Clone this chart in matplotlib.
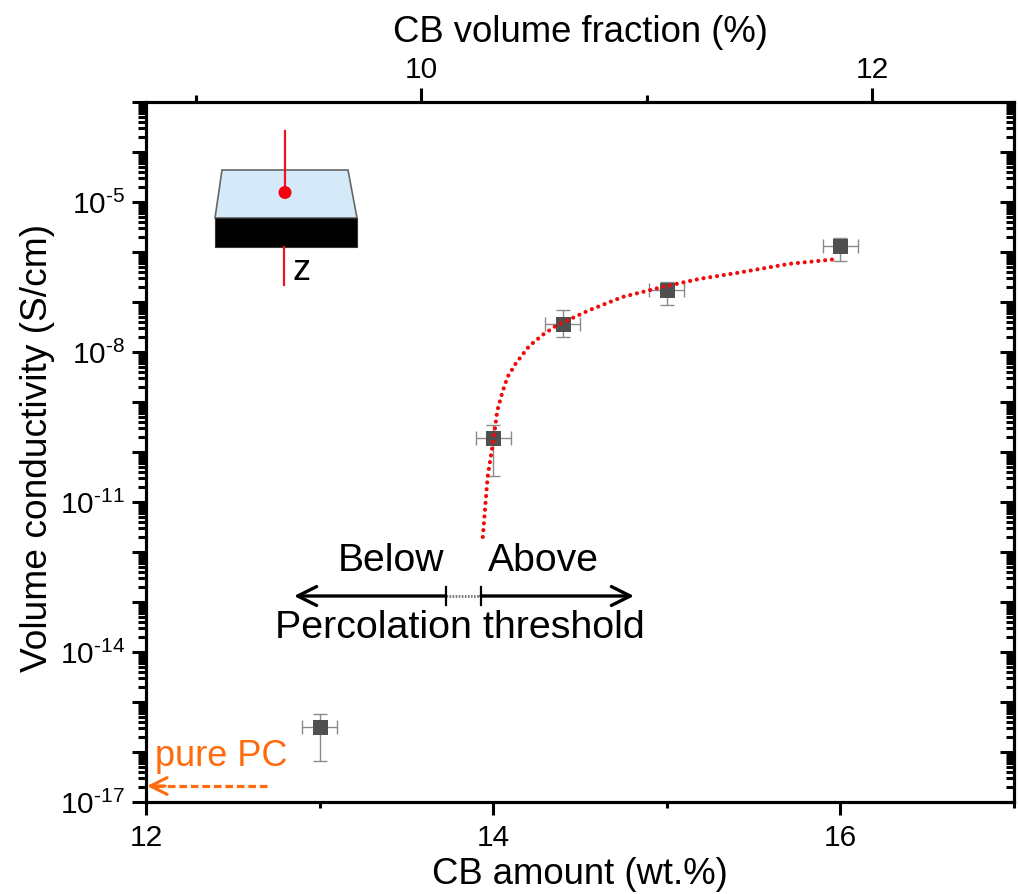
import matplotlib
matplotlib.use('Agg')
import matplotlib.pyplot as plt
import numpy as np
from matplotlib.patches import Polygon, Rectangle, Circle, FancyArrowPatch
from matplotlib.lines import Line2D
from matplotlib.ticker import FixedLocator, NullFormatter
from matplotlib.transforms import Affine2D

plt.rcParams['font.family'] = ['Liberation Sans', 'DejaVu Sans']
plt.rcParams['mathtext.fontset'] = 'custom'
plt.rcParams['mathtext.rm'] = 'Liberation Sans'
plt.rcParams['mathtext.default'] = 'regular'

# measured points
cb_amount = [13, 14, 14.4, 15, 16]
conductivity = [3.2e-16, 1.9e-10, 3.7e-8, 1.74e-7, 1.3e-6]
cond_upper = [5.8e-16, 3.5e-10, 6.9e-8, 2.5e-7, 1.9e-6]
cond_lower = [6.6e-17, 3.3e-11, 2.0e-8, 8.7e-8, 6.6e-7]
cb_err = [0.1, 0.1, 0.1, 0.1, 0.1]

# fit curve
fit_x = [13.94, 13.968, 14.003, 14.023, 14.055, 14.069, 14.083, 14.101, 14.124, 14.145, 14.168, 14.193,
         14.222, 14.285, 14.354, 14.394, 14.555, 14.745, 14.975, 15.188, 15.401, 15.706, 15.977]
fit_y = [2.0e-12, 3.2e-11, 1.9e-10, 6.6e-10, 1.66e-9, 2.3e-9, 3.2e-9, 4.0e-9, 5.5e-9, 6.9e-9, 8.7e-9, 1.15e-8,
         1.45e-8, 2.2e-8, 3.2e-8, 3.8e-8, 6.9e-8, 1.26e-7, 2.0e-7, 2.9e-7, 3.8e-7, 5.8e-7, 7.2e-7]

x_ticks = [12, 14, 16]
x_minor = [13, 15, 17]
top_ticks = [10, 12]
top_minor = [9, 11]
y_labels = {-17: '17', -14: '14', -11: '11', -8: '8', -5: '5'}

W, H = 1018, 894
fig = plt.figure(figsize=(W / 100, H / 100), dpi=100)
ax = fig.add_axes([146 / W, 1 - 802 / H, (1014 - 146) / W, (802 - 102) / H])

lw = 2.2
tick_size = 21.5
label_size = 26.3
ax.set_yscale('log')
ax.set_xlim(12, 17)
ax.set_ylim(1e-17, 1e-3)

decades = np.arange(-17, -2)
major_y = [10.0 ** int(d) for d in decades]
minor_y = [m * 10.0 ** int(d) for d in decades[:-1] for m in range(2, 10)]


def set_y_ticks(a):
    a.set_yscale('log')
    a.set_ylim(1e-17, 1e-3)
    a.yaxis.set_major_locator(FixedLocator(major_y))
    a.yaxis.set_minor_locator(FixedLocator(minor_y))
    a.yaxis.set_minor_formatter(NullFormatter())


set_y_ticks(ax)
# U+2010 keeps the short hyphen of the original exponents
ax.set_yticklabels(['$10^{\u2010%s}$' % y_labels[int(d)] if int(d) in y_labels else '' for d in decades])
ax.set_xticks(x_ticks)
ax.set_xticks(x_minor, minor=True)
ax.tick_params(axis='y', which='major', direction='out', length=10, width=lw, labelsize=tick_size, pad=5)
ax.tick_params(axis='y', which='minor', direction='out', length=6, width=lw)
ax.tick_params(axis='x', which='major', direction='out', length=9.5, width=lw, labelsize=tick_size, pad=6)
ax.tick_params(axis='x', which='minor', direction='out', length=4.5, width=lw)

# right axis, ticks pointing in
right = ax.twinx()
set_y_ticks(right)
right.set_yticklabels([])
right.tick_params(axis='y', which='major', direction='in', length=10, width=lw)
right.tick_params(axis='y', which='minor', direction='in', length=6, width=lw)

# top axis
top = ax.twiny()
top.set_xlim(8.78, 12.63)
top.set_xticks(top_ticks)
top.set_xticks(top_minor, minor=True)
top.tick_params(axis='x', which='major', direction='out', length=10, width=lw, labelsize=tick_size, pad=3)
top.tick_params(axis='x', which='minor', direction='out', length=5, width=lw)

for a in (ax, right, top):
    for s in a.spines.values():
        s.set_linewidth(lw)

ax.set_xlabel('CB amount (wt.%)', fontsize=label_size, labelpad=4)
top.set_xlabel('CB volume fraction (%)', fontsize=label_size, labelpad=10)
ax.set_ylabel('Volume conductivity (S/cm)', fontsize=26.7, y=0.506, labelpad=4)

conductivity = np.array(conductivity)
yerr = [conductivity - np.array(cond_lower), np.array(cond_upper) - conductivity]
ax.errorbar(cb_amount, conductivity, xerr=cb_err, yerr=yerr, fmt='none', ecolor='#8a8a8a',
            elinewidth=1, capsize=5, capthick=1, zorder=3)
ax.plot(cb_amount, conductivity, 's', color='#505050', ms=10.8, mew=0, zorder=4)
ax.plot(fit_x, fit_y, color='#f00a0a', lw=3, ls=(0, (0.01, 1.63)), dash_capstyle='round', zorder=5)

# annotations placed in image pixels
px = Affine2D().scale(1, -1).translate(0, H)

fig.add_artist(Polygon([(222, 170), (348, 170), (357, 218), (215, 218)], closed=True, facecolor='#d5eaf8',
                       edgecolor='#666666', lw=1.2, transform=px, zorder=6))
fig.add_artist(Rectangle((215, 218), 142, 29, facecolor='black', edgecolor='#333333', lw=0.8, transform=px, zorder=6))
fig.add_artist(Line2D([285, 285], [131, 192], color='#f01020', lw=1.6, transform=px, zorder=7))
fig.add_artist(Line2D([284, 284], [247, 285], color='#f01020', lw=1.6, transform=px, zorder=7))
fig.add_artist(Circle((285, 192.5), 6.5, facecolor='#f5000f', edgecolor='none', transform=px, zorder=8))
fig.text(302, 270, 'z', fontsize=26, ha='center', va='center', transform=px, zorder=8)

fig.add_artist(FancyArrowPatch((446, 596), (294, 596), arrowstyle='->', mutation_scale=34, lw=2.4, color='black',
                               shrinkA=0, shrinkB=0, transform=px, zorder=6))
fig.add_artist(FancyArrowPatch((481, 596), (634, 596), arrowstyle='->', mutation_scale=34, lw=2.4, color='black',
                               shrinkA=0, shrinkB=0, transform=px, zorder=6))
fig.add_artist(Line2D([446, 481], [596, 596], color='#777777', lw=2, ls=(0, (0.6, 0.5)), transform=px, zorder=6))
fig.add_artist(Line2D([446, 446], [587, 605], color='black', lw=1.6, transform=px, zorder=7))
fig.add_artist(Line2D([481, 481], [587, 605], color='black', lw=1.6, transform=px, zorder=7))
fig.text(391, 561, 'Below', fontsize=28.2, ha='center', va='center', transform=px, zorder=8)
fig.text(543, 561, 'Above', fontsize=28.2, ha='center', va='center', transform=px, zorder=8)
fig.text(460, 628, 'Percolation threshold', fontsize=28.4, ha='center', va='center', transform=px, zorder=8)

orange = '#ff6a0d'
fig.text(221, 756, 'pure PC', fontsize=26, color=orange, ha='center', va='center', transform=px, zorder=8)
fig.add_artist(Line2D([267, 155], [786, 786], color=orange, lw=2.3, ls=(0, (2.4, 1.2)), transform=px, zorder=6))
fig.add_artist(FancyArrowPatch((165, 786), (147, 786), arrowstyle='->', mutation_scale=30, lw=2.2, color=orange,
                               shrinkA=0, shrinkB=0, transform=px, zorder=6))

fig.savefig('out.png', dpi=100)
